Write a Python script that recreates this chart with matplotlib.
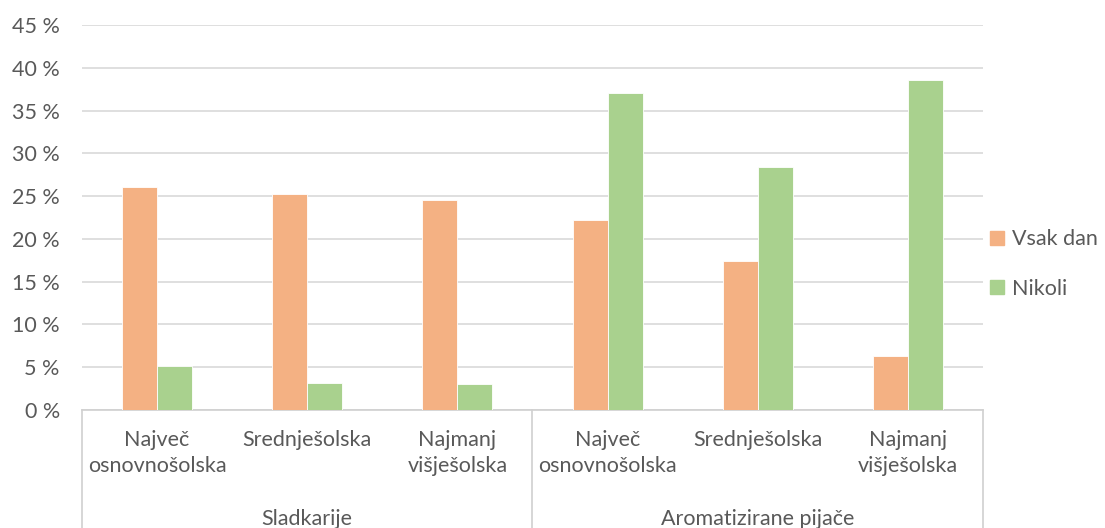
import matplotlib.pyplot as plt
import matplotlib.transforms as mtransforms
from matplotlib.patches import Patch
import numpy as np

plt.rcParams['font.family'] = ['Lato', 'DejaVu Sans']

# podatki
skupine = ['Sladkarije', 'Aromatizirane pijače']
izobrazba = ['Največ\nosnovnošolska', 'Srednješolska', 'Najmanj\nvišješolska']
vsak_dan = [26.1, 25.2, 24.6, 22.2, 17.4, 6.3]
nikoli = [5.2, 3.2, 3.0, 37.1, 28.4, 38.6]

barva_vsak = '#F4B183'
barva_nikoli = '#A9D18E'
siva = '#595959'
fs = 15.5

fig = plt.figure(figsize=(11.05, 5.28), dpi=100)
ax = fig.add_axes([0.0742, 0.2235, 0.8154, 0.7292])

x = np.arange(len(vsak_dan))
w = 0.233
ax.bar(x - w / 2, vsak_dan, w, color=barva_vsak, edgecolor='white', linewidth=0.6, zorder=3)
ax.bar(x + w / 2, nikoli, w, color=barva_nikoli, edgecolor='white', linewidth=0.6, zorder=3)

ax.set_xlim(-0.5, len(x) - 0.5)
ax.set_ylim(0, 45)
ax.set_yticks(range(0, 46, 5))
ax.set_yticklabels([f'{v} %' for v in range(0, 46, 5)], fontsize=fs, color=siva)
ax.tick_params(axis='y', length=0, pad=16)
ax.set_xticks([])
ax.grid(axis='y', color='#D9D9D9', linewidth=1.2, zorder=0)
for s in ['top', 'right', 'left']:
    ax.spines[s].set_visible(False)
ax.spines['bottom'].set_color('#D0D0D0')
ax.spines['bottom'].set_linewidth(1.2)

# dvonivojska os x
trans = mtransforms.blended_transform_factory(ax.transData, ax.transAxes)
for i in range(len(x)):
    ax.text(x[i], -0.052, izobrazba[i % 3], transform=trans, ha='center', va='top',
            fontsize=fs, color=siva, linespacing=1.38)
for g, ime in enumerate(skupine):
    ax.text(3 * g + 1, -0.283, ime, transform=trans, ha='center', va='center',
            fontsize=fs, color=siva)
for xs in [-0.5, 2.5, 5.5]:
    ax.plot([xs, xs], [0, -0.32], transform=trans, color='#D0D0D0', linewidth=1.2,
            clip_on=False)

handles = [Patch(color=barva_vsak), Patch(color=barva_nikoli)]
leg = fig.legend(handles, ['Vsak dan', 'Nikoli'], loc='center left',
                 bbox_to_anchor=(0.896, 0.5), frameon=False, fontsize=fs,
                 handlelength=0.65, handleheight=0.65, handletextpad=0.35,
                 labelspacing=1.35, borderpad=0, borderaxespad=0)
for t in leg.get_texts():
    t.set_color(siva)

fig.savefig('out.png', dpi=100)
